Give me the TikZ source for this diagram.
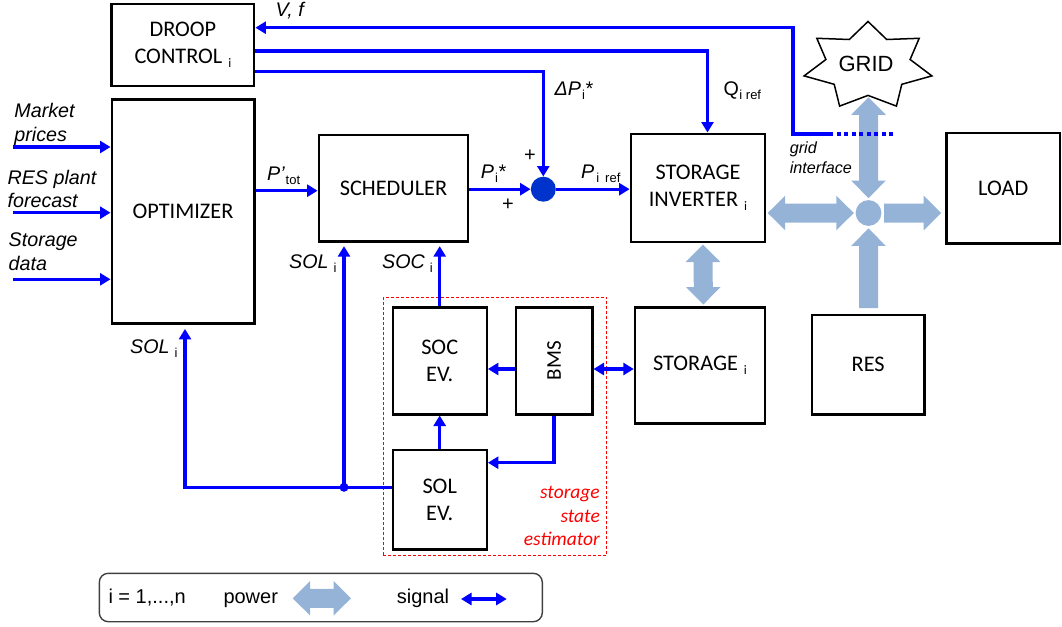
\documentclass[tikz,border=0pt]{standalone}
\usepackage{fontspec}
\setmainfont{Carlito}
\newfontfamily\arialf{Liberation Sans}
\usetikzlibrary{arrows.meta,calc}
\definecolor{sigc}{RGB}{0,0,255}
\definecolor{pwc}{RGB}{149,179,215}
\definecolor{sumc}{RGB}{0,51,204}
\newcommand\bsub[1]{\hspace{6pt}\raisebox{-4pt}{\fontsize{13}{13}\selectfont #1}}
\newcommand\lsub[2][5pt]{\hspace{#1}\raisebox{-4pt}{\upshape\fontsize{13}{13}\selectfont #2}}
\newcommand\pwH[2]{\fill[pwc] (#1) -- ($(#1)+(17.5,-17.3)$) -- ($(#1)+(17.5,-9.5)$) -- ($(#2)+(-17.5,-9.5)$) -- ($(#2)+(-17.5,-17.3)$) -- (#2) -- ($(#2)+(-17.5,17.3)$) -- ($(#2)+(-17.5,9.5)$) -- ($(#1)+(17.5,9.5)$) -- ($(#1)+(17.5,17.3)$) -- cycle;}
\newcommand\pwV[2]{\fill[pwc] (#1) -- ($(#1)+(-17.3,17.5)$) -- ($(#1)+(-9.5,17.5)$) -- ($(#2)+(-9.5,-17.5)$) -- ($(#2)+(-17.3,-17.5)$) -- (#2) -- ($(#2)+(17.3,-17.5)$) -- ($(#2)+(9.5,-17.5)$) -- ($(#1)+(9.5,17.5)$) -- ($(#1)+(17.3,17.5)$) -- cycle;}
\newcommand\pwR[2]{\fill[pwc] ($(#1)+(0,-9.5)$) -- ($(#2)+(-17.5,-9.5)$) -- ($(#2)+(-17.5,-17.3)$) -- (#2) -- ($(#2)+(-17.5,17.3)$) -- ($(#2)+(-17.5,9.5)$) -- ($(#1)+(0,9.5)$) -- cycle;}
\newcommand\pwU[2]{\fill[pwc] ($(#1)+(-9.5,0)$) -- ($(#2)+(-9.5,17.5)$) -- ($(#2)+(-17.3,17.5)$) -- (#2) -- ($(#2)+(17.3,17.5)$) -- ($(#2)+(9.5,17.5)$) -- ($(#1)+(9.5,0)$) -- cycle;}
\tikzset{
 box/.style={draw=black, line width=2.4pt, inner sep=0pt, align=center, font=\fontsize{22.3}{27.7}\selectfont},
 sig/.style={draw=sigc, line width=3.3pt, -{Triangle[length=10.5pt,width=12pt]}},
 sigb/.style={draw=sigc, line width=3.3pt, {Triangle[length=10.5pt,width=12pt]}-{Triangle[length=10.5pt,width=12pt]}},
 lab/.style={font=\arialf\itshape\fontsize{19.7}{23.5}\selectfont, inner sep=0pt},
 leg/.style={font=\arialf\fontsize{20}{20}\selectfont, inner sep=0pt},
}
\begin{document}
\begin{tikzpicture}[x=1pt,y=-1pt]
\useasboundingbox (0,0) rectangle (1062,626);
% boxes
\node[box, minimum width=142.6, minimum height=81.7] (droop) at (182.9,44.9) {DROOP\\CONTROL\bsub{i}};
\node[box, minimum width=142.6, minimum height=224] (opt) at (183,211.3) {OPTIMIZER};
\node[box, minimum width=149.4, minimum height=106.7] (sched) at (393.5,188.3) {SCHEDULER};
\node[box, minimum width=134.4, minimum height=108] (inv) at (698,187.7) {STORAGE\\INVERTER\bsub{i}};
\node[box, minimum width=113.6, minimum height=110.3] (load) at (1003.2,188.2) {LOAD};
\node[box, minimum width=130, minimum height=116] (stor) at (700,365.3) {STORAGE\bsub{i}};
\node[box, minimum width=112.3, minimum height=99.3] (res) at (868.2,364.7) {RES};
\node[box, minimum width=94, minimum height=107] (socev) at (439.7,360.8) {SOC\\EV.};
\node[box, minimum width=76.6, minimum height=107, font=\fontsize{21}{21}\selectfont] (bms) at (554,360.8) {\rotatebox{90}{BMS}};
\node[box, minimum width=94, minimum height=99.3] (solev) at (439.7,499.7) {SOL\\EV.};
\node[draw=red, dash pattern=on 3pt off 2pt, line width=1.1pt, minimum width=223.4, minimum height=258.4, inner sep=0pt] (sse) at (495,426.5) {};
\node[anchor=north east, font=\itshape\fontsize{19.5}{23.3}\selectfont, text=red, align=right, inner sep=0pt] (ssel) at (600,486.3) {storage\\state\\estimator};
\node[circle, fill=sumc, minimum size=25, inner sep=0pt] (sum) at (543.3,189.2) {};
\node[circle, fill=pwc, minimum size=25.8, inner sep=0pt] (junc) at (868.5,213) {};
% grid star
\draw[line width=1.5pt, line join=miter] (868,21.5) -- (849.3,39.5) -- (816.8,38.3) -- (825.9,59.5) -- (804.1,75.9) -- (834.2,84.3) -- (839.6,106.1) -- (868,95.4) -- (896.4,106.1) -- (901.8,84.3) -- (931.9,75.9) -- (910.1,59.5) -- (919.2,38.3) -- (886.7,39.5) -- cycle;
\node[font=\arialf\fontsize{22}{22}\selectfont, inner sep=0pt] (grid) at (866,64) {GRID};
% power flows
\coordinate (gridb) at (868.5,97.3);
\coordinate (jn) at ($(junc.north)+(0,-1.8)$);
\pwV{gridb}{jn}
\coordinate (ie) at ($(inv.east |- junc)+(1.3,0)$);
\coordinate (jw) at ($(junc.west)+(-1.6,0)$);
\pwH{ie}{jw}
\coordinate (je) at ($(junc.east)+(2.5,0)$);
\coordinate (lw) at ($(load.west |- junc)+(-4,0)$);
\pwR{je}{lw}
\coordinate (rn) at ($(res.north -| junc)+(0,-5.7)$);
\coordinate (js) at ($(junc.south)+(0,2.3)$);
\pwU{rn}{js}
\coordinate (is) at ($(inv.south)+(5,1.6)$);
\coordinate (sn) at ($(stor.north)+(3.3,-1.6)$);
\pwV{is}{sn}
% signal lines
\coordinate (gi) at (893,134);
\coordinate (gis) at (832,134);
\coordinate (vfc) at (793,134);
\draw[draw=sigc, line width=3.3pt, dash pattern=on 4pt off 3.5pt] (gi) -- (gis);
\draw[sig] (gis) -- (vfc) |- ($(droop.east)+(0,-17.2)$);
\draw[sig] ($(droop.east)+(0,6.1)$) -| ($(inv.north)+(9.5,0)$);
\draw[sig] ($(droop.east)+(0,26.8)$) -| (sum.north);
\coordinate (in1) at (12.8,147);
\coordinate (in2) at (12.8,212.7);
\coordinate (in3) at (12.8,279.3);
\draw[sig] (in1) -- (in1 -| opt.west);
\draw[sig] (in2) -- (in2 -| opt.west);
\draw[sig] (in3) -- (in3 -| opt.west);
\draw[sig] ($(opt.east)+(0,-20.6)$) -- ($(sched.west)+(0,2.4)$);
\draw[sig] ($(sched.east)+(0,0.9)$) -- (sum.west);
\draw[sig] (sum.east) -- (sum.east -| inv.west);
\coordinate (solj) at (344,487.3);
\coordinate (solc) at (185,487.3);
\draw[sig, shorten >=4.4pt] (solj -| solev.west) -- (solc) -- (solc |- opt.south);
\draw[sig, shorten >=3.3pt] (solj) -- (solj |- sched.south);
\fill[sigc] (solj) circle[radius=4.5];
\draw[sig, shorten >=3.3pt] (socev.north) -- (socev.north |- sched.south);
\draw[sig] ($(bms.west)+(0,8.2)$) -- ($(socev.east)+(0,8.2)$);
\draw[sigb] ($(bms.east)+(0,8.2)$) -- ($(stor.west)+(0,3.7)$);
\draw[sig] (bms.south) |- ($(solev.east)+(0,-37)$);
\draw[sig] (solev.north) -- (socev.south);
% labels
\node[lab, anchor=north west, align=left] (lmk) at (14.2,103.3) {Market\\prices};
\node[lab, anchor=north west, align=left] (lres) at (7.4,170) {RES plant\\forecast};
\node[lab, anchor=north west, align=left] (lsto) at (8.5,233) {Storage\\data};
\node[lab, anchor=base west] (lvf) at (275.5,16.7) {V, f};
\node[lab, anchor=base west] (lptot) at (267,180) {P’\lsub[1pt]{tot}};
\node[lab, anchor=base west] (lpstar) at (480.7,178.3) {P\lsub[1pt]{i}*};
\node[lab, anchor=base west] (ldp) at (554.5,95) {ΔP\lsub[1pt]{i}*};
\node[lab, anchor=base west] (lq) at (723.4,95) {\upshape Q\lsub[0.5pt]{i ref}};
\node[lab, anchor=base west] (lpref) at (581,178) {P\lsub[2pt]{i\hspace{6pt}ref}};
\node[lab, anchor=base west] (lsol1) at (289,268) {SOL\lsub{i}};
\node[lab, anchor=base west] (lsoc) at (382,268) {SOC\lsub{i}};
\node[lab, anchor=base west] (lsol2) at (130,353.3) {SOL\lsub{i}};
\node[leg] (plus1) at (530,156) {+};
\node[leg] (plus2) at (508,205) {+};
\node[lab, anchor=north west, align=left, font=\arialf\itshape\fontsize{16.2}{20}\selectfont] (lgi) at (789.6,142) {grid\\interface};
% legend
\node[draw=black!75, line width=1.4pt, rounded corners=9pt, minimum width=443, minimum height=48.4, inner sep=0pt] (legend) at (320.8,597.5) {};
\node[leg, anchor=base west] (li) at (108.3,603.3) {i = 1,...,n};
\node[leg, anchor=base west] (lpow) at (223.3,603.3) {power};
\node[leg, anchor=base west] (lsig) at (396.7,603.3) {signal};
\coordinate (lp1) at (292.7,598.3);
\coordinate (lp2) at (351,598.3);
\pwH{lp1}{lp2}
\coordinate (ls1) at (461,599);
\coordinate (ls2) at (506.7,599);
\draw[sigb] (ls1) -- (ls2);
\end{tikzpicture}
\end{document}
